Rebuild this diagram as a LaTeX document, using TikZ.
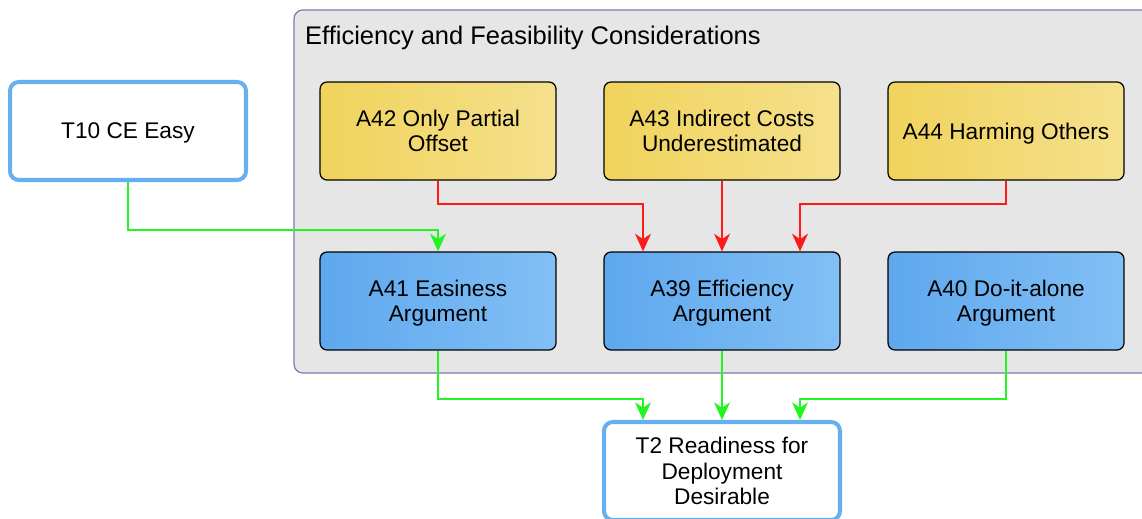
\documentclass[tikz,border=0pt]{standalone}
\usepackage{fontspec}
\setmainfont{Liberation Sans}
\usetikzlibrary{calc,arrows.meta}
\definecolor{groupfill}{HTML}{E6E6E6}
\definecolor{groupline}{HTML}{8078B0}
\definecolor{yelleft}{HTML}{F0D35C}
\definecolor{yelright}{HTML}{F5E08C}
\definecolor{bluleft}{HTML}{5EA8EE}
\definecolor{bluright}{HTML}{82BFF5}
\definecolor{tline}{HTML}{66B0F0}
\definecolor{redarr}{HTML}{FF1A1A}
\definecolor{grnarr}{HTML}{22F522}
\tikzset{
  argbox/.style={draw=black, line width=0.7pt, rounded corners=4pt,
    minimum width=4.72cm, minimum height=1.96cm, align=center, text depth=0pt,
    font=\fontsize{12.9}{14.4}\selectfont},
  yellowbox/.style={argbox, left color=yelleft, right color=yelright},
  bluebox/.style={argbox, left color=bluleft, right color=bluright},
  tbox/.style={argbox, draw=tline, line width=2.3pt, fill=white, rounded corners=5pt},
  redline/.style={draw=redarr, line width=1.1pt, -{Stealth[length=10pt,width=9pt,inset=3pt]}},
  greenline/.style={draw=grnarr, line width=1.1pt, -{Stealth[length=10pt,width=9pt,inset=3pt]}}
}
\begin{document}
\begin{tikzpicture}[x=0.02cm, y=-0.02cm]
			%%%%% FRAME %%%%%
			\useasboundingbox (0,0) rectangle (1142,518);
			
			\draw[fill=groupfill, draw=groupline, line width=0.7pt, rounded corners=5pt] (294,10) rectangle (1170,373);
			\node[anchor=west, font=\fontsize{14.5}{16}\selectfont] (title) at (299,38) {Efficiency and Feasibility Considerations};
			
			%%%%% NODES %%%%%
			\node[tbox] (t10) at (128,131) {T10 CE Easy};
			
			\node[yellowbox] (a42) at (438,131) {A42 Only Partial\\Offset};
			\node[yellowbox] (a43) at (722,131) {A43 Indirect Costs\\Underestimated};
			\node[yellowbox] (a44) at (1006,131) {A44 Harming Others};
			
			\node[bluebox] (a41) at (438,301) {A41 Easiness\\Argument};
			\node[bluebox] (a39) at (722,301) {A39 Efficiency\\Argument};
			\node[bluebox] (a40) at (1006,301) {A40 Do-it-alone\\Argument};
			
			\node[tbox] (t2) at (722,471) {T2 Readiness for\\Deployment\\Desirable};
			
			%%%%% ARROWS %%%%%
			\draw[redline] (a42.south) -- ++(0,23) -| ($(a39.north)+(-79,0)$);
			\draw[redline] (a43.south) -- (a39.north);
			\draw[redline] (a44.south) -- ++(0,23) -| ($(a39.north)+(78,0)$);
			
			\draw[greenline] (t10.south) -- ++(0,48) -| (a41.north);
			
			\draw[greenline] (a41.south) -- ++(0,48) -| ($(t2.north)+(-79,0)$);
			\draw[greenline] (a39.south) -- (t2.north);
			\draw[greenline] (a40.south) -- ++(0,48) -| ($(t2.north)+(78,0)$);
			
\end{tikzpicture}
\end{document}
